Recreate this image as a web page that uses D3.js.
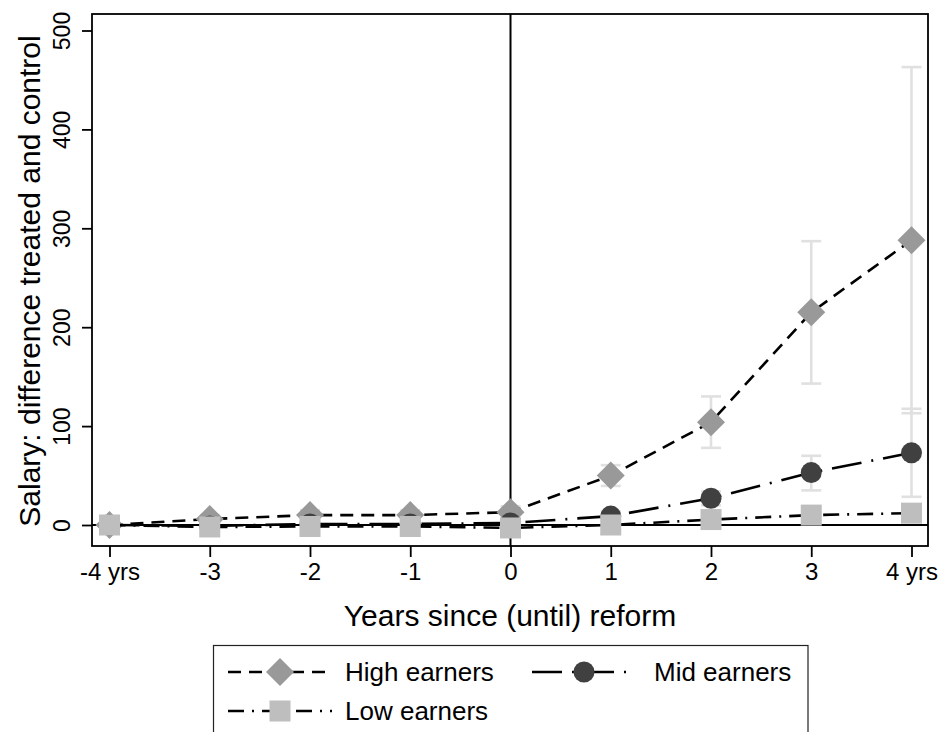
<!DOCTYPE html>
<html>
<head>
<meta charset="utf-8">
<script src="https://cdn.jsdelivr.net/npm/d3@7"></script>
<style>
  html, body { margin: 0; padding: 0; background: #fff; }
  svg { display: block; font-family: "Liberation Sans", Arial, sans-serif; }
</style>
</head>
<body>
<svg id="chart" width="942" height="732"></svg>
<script>
// Event-time axis: years relative to the reform
const years = [-4, -3, -2, -1, 0, 1, 2, 3, 4];
const xTickLabels = ["-4 yrs", "-3", "-2", "-1", "0", "1", "2", "3", "4 yrs"];
const yTicks = [0, 100, 200, 300, 400, 500];

// Point estimates (salary difference, treated minus control)
const highEst = [0, 6, 10, 10, 13, 50, 104, 215, 288];
const midEst  = [0, -1, 1, 1, 2, 9, 27, 53, 73];
const lowEst  = [0, -2, -1.5, -1.5, -3, 0, 5.5, 10, 12];

// Confidence bounds
const highLo = [0, 2, 5, 5, 7, 39.5, 78, 143, 113];
const highHi = [0, 10, 15, 15, 19, 60.5, 130, 287, 463];
const midLo  = [0, -4, -2, -2, -2, 4, 20, 35, 28.5];
const midHi  = [0, 2, 4, 4, 6, 14, 34, 70, 117.5];
const lowLo  = [0, -4, -4, -4, -6, -3, 2, 5, 6];
const lowHi  = [0, 0, 1, 1, 0, 3, 9, 15, 18];

const seriesNames = ["High earners", "Mid earners", "Low earners"];

const svg = d3.select("#chart");
const box = { left: 92, right: 928, top: 14, bottom: 546 };

const x = d3.scaleLinear().domain([-4, 4]).range([109.5, 911.5]);
const y = d3.scaleLinear().domain([0, 500]).range([525, 30.5]);

const series = [
  { name: seriesNames[0], est: highEst, lo: highLo, hi: highHi, shape: "diamond", fill: "#999999", dash: "13,8" },
  { name: seriesNames[1], est: midEst,  lo: midLo,  hi: midHi,  shape: "circle",  fill: "#404040", dash: "30,10,2,10" },
  { name: seriesNames[2], est: lowEst,  lo: lowLo,  hi: lowHi,  shape: "square",  fill: "#bebebe", dash: "16,8,2,8" }
];

const plot = svg.append("g");

// Reference lines: zero effect and reform date
plot.append("line")
  .attr("x1", box.left).attr("x2", box.right)
  .attr("y1", y(0)).attr("y2", y(0))
  .attr("stroke", "#000").attr("stroke-width", 2);
plot.append("line")
  .attr("x1", x(0)).attr("x2", x(0))
  .attr("y1", box.top).attr("y2", box.bottom)
  .attr("stroke", "#000").attr("stroke-width", 2);

// Confidence intervals (capped spikes)
const capHalf = 10;
series.forEach(s => {
  const g = plot.append("g");
  years.forEach((yr, i) => {
    if (s.hi[i] === s.lo[i]) return;
    const cx = x(yr);
    g.append("line").attr("x1", cx).attr("x2", cx)
      .attr("y1", y(s.lo[i])).attr("y2", y(s.hi[i]))
      .attr("stroke", "#e0e0e0").attr("stroke-width", 2.6);
    [s.lo[i], s.hi[i]].forEach(v => {
      g.append("line").attr("x1", cx - capHalf).attr("x2", cx + capHalf)
        .attr("y1", y(v)).attr("y2", y(v))
        .attr("stroke", "#e0e0e0").attr("stroke-width", 2.6);
    });
  });
});

function drawMarker(g, shape, cx, cy, fill) {
  if (shape === "diamond") {
    const r = 14;
    g.append("path")
      .attr("d", `M${cx},${cy - r}L${cx + r},${cy}L${cx},${cy + r}L${cx - r},${cy}Z`)
      .attr("fill", fill);
  } else if (shape === "circle") {
    g.append("circle").attr("cx", cx).attr("cy", cy).attr("r", 10.5).attr("fill", fill);
  } else {
    const h = 10.5;
    g.append("rect").attr("x", cx - h).attr("y", cy - h)
      .attr("width", 2 * h).attr("height", 2 * h).attr("fill", fill);
  }
}

const line = d3.line().x((d, i) => x(years[i])).y(d => y(d));

// Connected estimates with markers
series.forEach(s => {
  const g = plot.append("g");
  g.append("path").datum(s.est)
    .attr("d", line)
    .attr("fill", "none").attr("stroke", "#000")
    .attr("stroke-width", 2.6).attr("stroke-dasharray", s.dash);
  s.est.forEach((v, i) => drawMarker(g, s.shape, x(years[i]), y(v), s.fill));
});

// Plot frame
svg.append("rect")
  .attr("x", box.left).attr("y", box.top)
  .attr("width", box.right - box.left).attr("height", box.bottom - box.top)
  .attr("fill", "none").attr("stroke", "#000").attr("stroke-width", 1.8);

// X axis
const xAxis = d3.axisBottom(x).tickValues(years)
  .tickFormat((d, i) => xTickLabels[i]).tickSize(11).tickPadding(6);
const gx = svg.append("g").attr("transform", `translate(0,${box.bottom})`).call(xAxis);
gx.select(".domain").remove();
gx.selectAll(".tick line").attr("stroke", "#000").attr("stroke-width", 1.8);
gx.selectAll(".tick text").attr("font-size", 24).attr("fill", "#000")
  .attr("font-family", "Liberation Sans, Arial, sans-serif");

// Y axis (labels rotated, as in the original layout)
const yAxis = d3.axisLeft(y).tickValues(yTicks).tickSize(10).tickFormat(d3.format("d"));
const gy = svg.append("g").attr("transform", `translate(${box.left},0)`).call(yAxis);
gy.select(".domain").remove();
gy.selectAll(".tick line").attr("stroke", "#000").attr("stroke-width", 1.8);
gy.selectAll(".tick text")
  .attr("font-size", 23).attr("fill", "#000")
  .attr("font-family", "Liberation Sans, Arial, sans-serif")
  .attr("x", null).attr("dy", null)
  .attr("text-anchor", "middle")
  .attr("transform", "translate(-22,0) rotate(-90)");

// Axis titles
svg.append("text")
  .attr("x", 510).attr("y", 626)
  .attr("text-anchor", "middle")
  .attr("font-size", 30)
  .text("Years since (until) reform");
svg.append("text")
  .attr("transform", "translate(40,281) rotate(-90)")
  .attr("text-anchor", "middle")
  .attr("font-size", 30)
  .text("Salary: difference treated and control");

// Legend
const leg = svg.append("g");
leg.append("rect")
  .attr("x", 213.5).attr("y", 645.5).attr("width", 594.5).attr("height", 100)
  .attr("fill", "#fff").attr("stroke", "#222").attr("stroke-width", 1.2);
const legendItems = [
  { s: series[0], kx: 228, ky: 672, tx: 345 },
  { s: series[1], kx: 532, ky: 672, tx: 654 },
  { s: series[2], kx: 228, ky: 711, tx: 345 }
];
legendItems.forEach(it => {
  leg.append("line")
    .attr("x1", it.kx).attr("x2", it.kx + 104)
    .attr("y1", it.ky).attr("y2", it.ky)
    .attr("stroke", "#000").attr("stroke-width", 2.4)
    .attr("stroke-dasharray", it.s.dash);
  drawMarker(leg, it.s.shape, it.kx + 52, it.ky, it.s.fill);
  leg.append("text")
    .attr("x", it.tx).attr("y", it.ky + 9)
    .attr("font-size", 26)
    .text(it.s.name);
});
</script>
</body>
</html>
